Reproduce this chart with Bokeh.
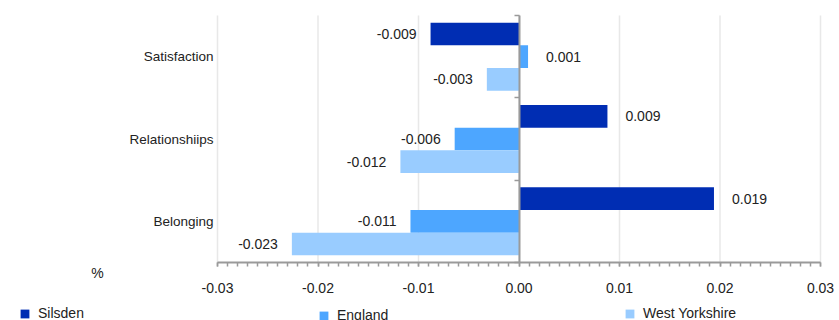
from bokeh.plotting import figure
from bokeh.models import (ColumnDataSource, FixedTicker, Range1d, LinearAxis,
                          SingleIntervalTicker, Label, Legend, LegendItem,
                          NumeralTickFormatter)
from bokeh.core.properties import value
from bokeh.embed import file_html
from bokeh.resources import INLINE

# categories bottom -> top
categories = ["Belonging", "Relationshiips", "Satisfaction"]
series = ["Silsden", "England", "West Yorkshire"]
silsden = [0.0194, 0.0088, -0.0088]
england = [-0.0108, -0.0064, 0.0009]
west_yorkshire = [-0.0226, -0.0118, -0.0032]
colors = ["#002db3", "#4da6ff", "#99ccff"]
x_ticks = [-0.03, -0.02, -0.01, 0.0, 0.01, 0.02, 0.03]

FONT = "Liberation Sans"
FS = "14px"
TXT = "#222222"
AXC = "#9a9a9a"
bar_h = 0.275

W, H = 839, 320
# pixel layout of the value area inside the canvas
left_px, right_px, top_px, bottom_px = 217, 820, 15, 262
xmin, xmax = x_ticks[0], x_ticks[-1]
ymin, ymax = -0.5, len(categories) - 0.5
xs = (xmax - xmin) / (right_px - left_px)
ys_ = (ymax - ymin) / (bottom_px - top_px)
x_range = Range1d(xmin - left_px * xs, xmax + (W - right_px) * xs)
y_range = Range1d(ymin - (H - bottom_px) * ys_, ymax + top_px * ys_)

p = figure(width=W, height=H, x_range=x_range, y_range=y_range,
           output_backend="svg", toolbar_location=None,
           min_border=0, min_border_left=0, min_border_right=0,
           min_border_top=0, min_border_bottom=0)
p.outline_line_color = None
p.xgrid.grid_line_color = None
p.ygrid.grid_line_color = None

# vertical grid lines over the value area
p.segment(x0=x_ticks, x1=x_ticks, y0=ymin, y1=ymax,
          line_color="#e8e8e8", line_width=1.5)

# x axis
xa = p.xaxis[0]
xa.fixed_location = ymin
xa.bounds = (xmin, xmax)
xa.ticker = SingleIntervalTicker(interval=0.01, num_minor_ticks=10)
xa.formatter = NumeralTickFormatter(format="0.00")
xa.axis_line_color = AXC
xa.axis_line_width = 2
xa.major_tick_line_color = AXC
xa.minor_tick_line_color = AXC
xa.major_tick_line_width = 1.5
xa.minor_tick_line_width = 1.5
xa.major_tick_in = 0
xa.major_tick_out = 4
xa.minor_tick_in = 0
xa.minor_tick_out = 4
xa.major_label_standoff = 16
xa.major_label_text_font = FONT
xa.major_label_text_font_size = FS
xa.major_label_text_color = TXT

# category axis (labels only)
ya = p.yaxis[0]
ya.fixed_location = xmin
ya.ticker = FixedTicker(ticks=list(range(len(categories))))
ya.major_label_overrides = {i: c for i, c in enumerate(categories)}
ya.axis_line_color = None
ya.major_tick_line_color = None
ya.minor_tick_line_color = None
ya.major_tick_out = 0
ya.major_tick_in = 0
ya.major_label_standoff = 4
ya.major_label_text_font = FONT
ya.major_label_text_font_size = "13.5px"
ya.major_label_text_color = TXT

renderers = []
all_vals = [silsden, england, west_yorkshire]
for j, (name, vals, col) in enumerate(zip(series, all_vals, colors)):
    yy = [i + (1 - j) * bar_h for i in range(len(categories))]
    src = ColumnDataSource(dict(
        y=yy, val=vals,
        label=[f"{v:.3f}" for v in vals],
        align=["left" if v >= 0 else "right" for v in vals],
        xoff=[18 if v >= 0 else -14 for v in vals],
    ))
    r = p.hbar(y="y", left=0, right="val", height=bar_h, source=src,
               fill_color=col, line_color=None)
    renderers.append(r)
    p.text(x="val", y="y", text="label", text_align="align", x_offset="xoff",
           text_baseline="middle", text_font=value(FONT),
           text_font_size=FS, text_color=TXT, source=src)

# zero axis with category boundary ticks
bounds = [i - 0.5 for i in range(len(categories) + 1)]
zax = LinearAxis(ticker=FixedTicker(ticks=bounds), fixed_location=0,
                 bounds=(ymin, ymax))
zax.axis_line_color = AXC
zax.axis_line_width = 2
zax.major_tick_line_color = AXC
zax.major_tick_line_width = 1.5
zax.major_tick_in = 0
zax.major_tick_out = 5
zax.minor_tick_line_color = None
zax.major_label_text_alpha = 0
zax.major_label_text_font_size = "1px"
zax.major_label_standoff = 0
p.add_layout(zax, "left")

legend_pos = [(19, -1), (318, -3), (624, -1)]
for name, r, loc in zip(series, renderers, legend_pos):
    lg = Legend(items=[LegendItem(label=name, renderers=[r])], location=loc,
                padding=0, margin=0, spacing=0, border_line_color=None,
                background_fill_alpha=0, glyph_width=11, glyph_height=11,
                label_height=16, label_standoff=8,
                label_text_font=FONT, label_text_font_size=FS,
                label_text_color=TXT)
    p.add_layout(lg, "center")

p.add_layout(Label(x=97, y=H - 272, x_units="screen", y_units="screen", text="%",
                   text_align="center", text_baseline="middle",
                   text_font=FONT, text_font_size=FS, text_color=TXT))

open("out.html", "w").write(file_html(p, INLINE))
